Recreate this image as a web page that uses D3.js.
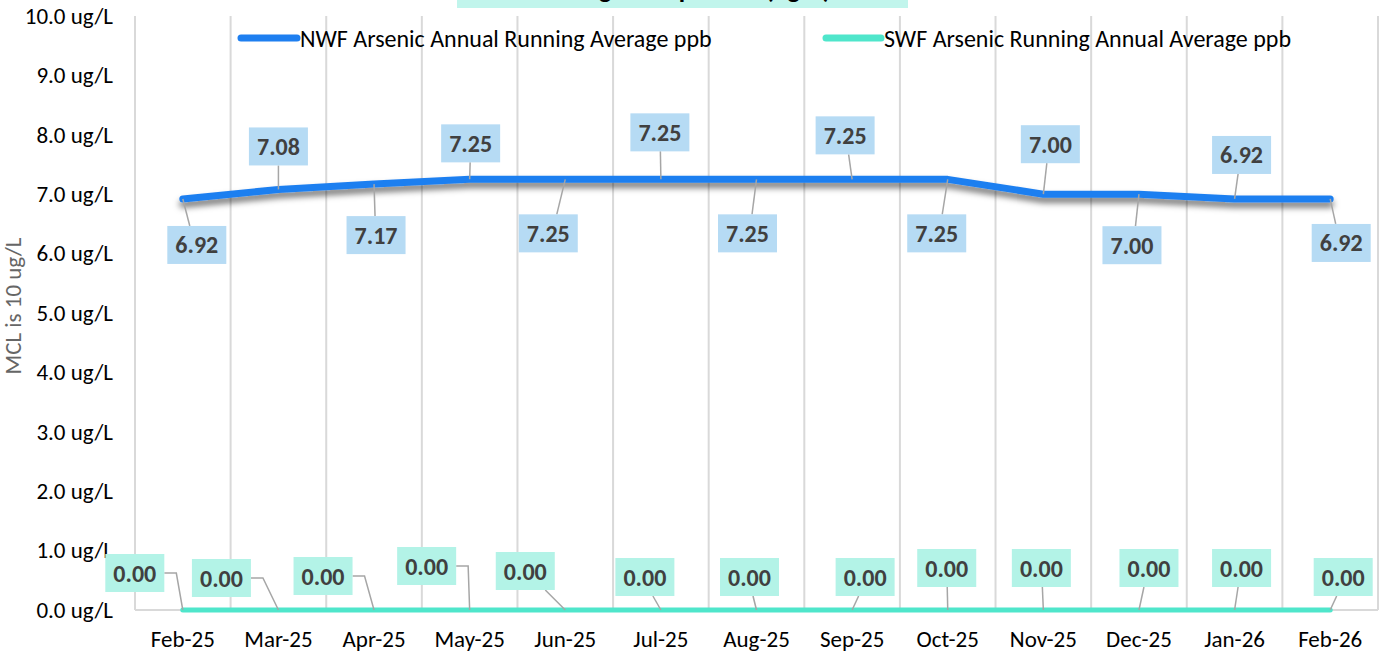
<!DOCTYPE html>
<html>
<head>
<meta charset="utf-8">
<script src="https://cdn.jsdelivr.net/npm/d3@7"></script>
<style>
  html, body { margin: 0; padding: 0; background: #ffffff; overflow: hidden; }
  svg { display: block; font-family: Calibri, Carlito, Lato, sans-serif; }
</style>
</head>
<body>
<svg id="chart" width="1380" height="658"></svg>
<script>
// ---------------- data ----------------
const categories = ["Feb-25","Mar-25","Apr-25","May-25","Jun-25","Jul-25","Aug-25","Sep-25","Oct-25","Nov-25","Dec-25","Jan-26","Feb-26"];
const nwfValues = [6.92, 7.08, 7.17, 7.25, 7.25, 7.25, 7.25, 7.25, 7.25, 7.00, 7.00, 6.92, 6.92];
const swfValues = [0.00, 0.00, 0.00, 0.00, 0.00, 0.00, 0.00, 0.00, 0.00, 0.00, 0.00, 0.00, 0.00];
const yTicks = [0, 1, 2, 3, 4, 5, 6, 7, 8, 9, 10];
const seriesNames = ["NWF Arsenic Annual Running Average ppb", "SWF Arsenic Running Annual Average ppb"];
const titleText = "Average Comparison (ug/L)";
const yAxisTitle = "MCL is 10 ug/L";

// ---------------- layout (label offsets from their points, px) ----------------
const nwfLabelOffsets = [[14,46],[0,-43],[2,51],[1,-36],[-17,54],[-1,-47],[-9,54],[-7,-44],[-11,54],[7,-50],[-7,51],[7,-44],[11,44]];
const swfLabelOffsets = [[-48,-37],[-57,-32],[-51,-34],[-43,-44],[-40,-39],[-16,-33],[-7,-33],[13,-33],[-1,-42],[-2,-42],[10,-42],[7,-42],[13,-33]];

const colors = { nwf: "#1e7ff0", swf: "#4fe6cb", nwfBox: "#b6dbf4", swfBox: "#b3f3e7", grid: "#d9d9d9", leader: "#a6a6a6", labelText: "#404040" };

const svg = d3.select("#chart");
const plot = { left: 135, right: 1378, top: 16, bottom: 610 };

const x = d3.scaleBand().domain(categories).range([plot.left, plot.right]).padding(0);
const y = d3.scaleLinear().domain([0, 10]).range([plot.bottom, plot.top]);
const cx = c => x(c) + x.bandwidth() / 2;

// shadow filter
const defs = svg.append("defs");
const f = defs.append("filter").attr("id", "shadow").attr("x", "-5%").attr("y", "-50%").attr("width", "110%").attr("height", "300%");
f.append("feDropShadow").attr("dx", 0).attr("dy", 5).attr("stdDeviation", 3).attr("flood-color", "#000").attr("flood-opacity", 0.55);

// title (mostly cut off at the top, as in the reference)
svg.append("rect").attr("x", 457).attr("y", -50).attr("width", 451).attr("height", 58).attr("fill", "#c1f5ec");
svg.append("text").attr("x", 684).attr("y", -2).attr("text-anchor", "middle")
  .style("font-size", "26px").style("font-weight", "bold").attr("fill", "#000").text(titleText);

// vertical gridlines at band boundaries
const bounds = categories.map(c => x(c)).concat([plot.right]);
svg.append("g").selectAll("line").data(bounds).join("line")
  .attr("x1", d => d).attr("x2", d => d).attr("y1", plot.top).attr("y2", plot.bottom)
  .attr("stroke", colors.grid).attr("stroke-width", 2);
// x axis baseline
svg.append("line").attr("x1", plot.left).attr("x2", plot.right).attr("y1", plot.bottom).attr("y2", plot.bottom)
  .attr("stroke", colors.grid).attr("stroke-width", 2);

// y axis labels
const yAxis = d3.axisLeft(y).tickValues(yTicks).tickSize(0).tickPadding(0).tickFormat(d => d3.format(".1f")(d) + " ug/L");
const yg = svg.append("g").attr("transform", `translate(113,0)`).call(yAxis);
yg.select(".domain").remove();
yg.selectAll("text").style("font-size", "23px").style("font-family", "Calibri, Carlito, Lato, sans-serif").attr("fill", "#000");

// x axis labels
const xAxis = d3.axisBottom(x).tickSize(0).tickPadding(0);
const xg = svg.append("g").attr("transform", `translate(0,631)`).call(xAxis);
xg.select(".domain").remove();
xg.selectAll("text").style("font-size", "23px").style("font-family", "Calibri, Carlito, Lato, sans-serif").attr("fill", "#000");

// y axis title
svg.append("text").attr("transform", `translate(21,306) rotate(-90)`).attr("text-anchor", "middle")
  .style("font-size", "23px").attr("fill", "#666").text(yAxisTitle);

// lines
const line = d3.line().x((d, i) => cx(categories[i])).y(d => y(d));
svg.append("path").datum(swfValues).attr("d", line).attr("fill", "none")
  .attr("stroke", colors.swf).attr("stroke-width", 5).attr("stroke-linecap", "round");
svg.append("path").datum(nwfValues).attr("d", line).attr("fill", "none")
  .attr("stroke", colors.nwf).attr("stroke-width", 7).attr("stroke-linecap", "round").attr("stroke-linejoin", "round")
  .attr("filter", "url(#shadow)");

// data labels with leaders
const BW = 59, BH = 38;
function drawLabels(values, offsets, boxFill) {
  const g = svg.append("g");
  values.forEach((v, i) => {
    const px = cx(categories[i]), py = y(v);
    const bx = px + offsets[i][0], by = py + offsets[i][1];
    let pts;
    if (Math.abs(bx - px) > 42) {
      const s = Math.sign(px - bx);
      const ex = bx + s * BW / 2;
      pts = [[ex, by], [ex + s * 12, by], [px, py]];
    } else {
      const s = Math.sign(py - by);
      pts = [[bx + (px - bx) * 0.5, by + s * BH / 2], [px, py]];
    }
    g.append("path").attr("d", d3.line()(pts)).attr("fill", "none")
      .attr("stroke", colors.leader).attr("stroke-width", 1.5);
    g.append("rect").attr("x", bx - BW / 2).attr("y", by - BH / 2).attr("width", BW).attr("height", BH).attr("fill", boxFill);
    g.append("text").attr("x", bx).attr("y", by).attr("text-anchor", "middle").attr("dominant-baseline", "central")
      .style("font-size", "24px").style("font-weight", "bold").attr("fill", colors.labelText)
      .text(d3.format(".2f")(v));
  });
}
drawLabels(nwfValues, nwfLabelOffsets, colors.nwfBox);
drawLabels(swfValues, swfLabelOffsets, colors.swfBox);

// legend
const legend = [
  { name: seriesNames[0], color: colors.nwf, x1: 241, x2: 297, w: 7 },
  { name: seriesNames[1], color: colors.swf, x1: 826, x2: 881, w: 7 }
];
const lg = svg.append("g");
legend.forEach(l => {
  lg.append("line").attr("x1", l.x1).attr("x2", l.x2).attr("y1", 38).attr("y2", 38)
    .attr("stroke", l.color).attr("stroke-width", l.w).attr("stroke-linecap", "round");
  lg.append("text").attr("x", l.x2 + 3).attr("y", 38).attr("dominant-baseline", "central")
    .style("font-size", "24px").attr("fill", "#000").text(l.name);
});
</script>
</body>
</html>
